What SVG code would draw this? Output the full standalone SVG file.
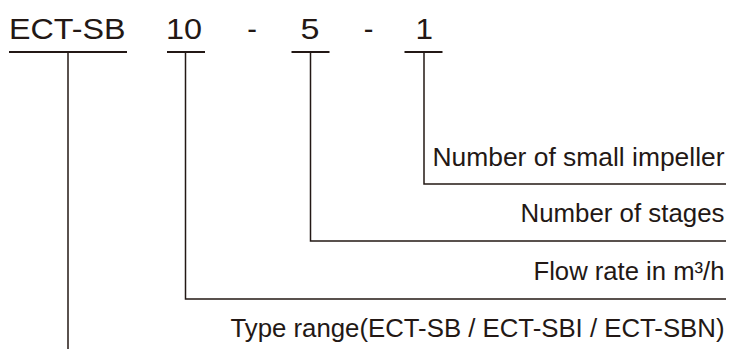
<svg xmlns="http://www.w3.org/2000/svg" width="730" height="349" viewBox="0 0 730 349">
<style>
.ln{stroke:#231815;stroke-width:1.5;fill:none}
.ul{stroke:#231815;stroke-width:1.8;fill:none}
.top{font-family:"Liberation Sans",Arial,sans-serif;font-size:29px;fill:#231815}
.lbl{font-family:"Liberation Sans",Arial,sans-serif;font-size:25.5px;fill:#231815;text-anchor:end}
</style>
<rect width="730" height="349" fill="#ffffff"/>
<g id="code-series">
<text class="top" x="9" y="39" textLength="116.5" lengthAdjust="spacingAndGlyphs">ECT-SB</text>
<line class="ul" x1="9" y1="52" x2="127" y2="52"/>
</g>
<g id="code-flow">
<text class="top" x="166" y="39" textLength="36" lengthAdjust="spacingAndGlyphs">10</text>
<line class="ul" x1="167" y1="52" x2="205" y2="52"/>
</g>
<text class="top" x="252" y="39" text-anchor="middle">-</text>
<g id="code-stages">
<text class="top" x="300.5" y="39" textLength="19" lengthAdjust="spacingAndGlyphs">5</text>
<line class="ul" x1="291.5" y1="52" x2="329.5" y2="52"/>
</g>
<text class="top" x="368.5" y="39" text-anchor="middle">-</text>
<g id="code-impeller">
<text class="top" x="415.5" y="39" textLength="17.5" lengthAdjust="spacingAndGlyphs">1</text>
<line class="ul" x1="404.5" y1="52" x2="442.5" y2="52"/>
</g>
<g id="label-impeller">
<text class="lbl" x="724.5" y="165.5" textLength="292" lengthAdjust="spacingAndGlyphs">Number of small impeller</text>
</g>
<g id="label-stages">
<text class="lbl" x="724.5" y="222" textLength="204" lengthAdjust="spacingAndGlyphs">Number of stages</text>
</g>
<g id="label-flow">
<text class="lbl" x="724.5" y="280" textLength="191" lengthAdjust="spacingAndGlyphs">Flow rate in m³/h</text>
</g>
<g id="label-type">
<text class="lbl" x="724.5" y="337" textLength="494" lengthAdjust="spacingAndGlyphs">Type range(ECT-SB / ECT-SBI / ECT-SBN)</text>
</g>
<g id="connectors">
<polyline class="ln" points="424,52 424,184 726,184"/>
<polyline class="ln" points="310.5,52 310.5,241 726,241"/>
<polyline class="ln" points="185.5,52 185.5,299 726,299"/>
<line class="ln" x1="68" y1="52" x2="68" y2="349"/>
</g>
</svg>
